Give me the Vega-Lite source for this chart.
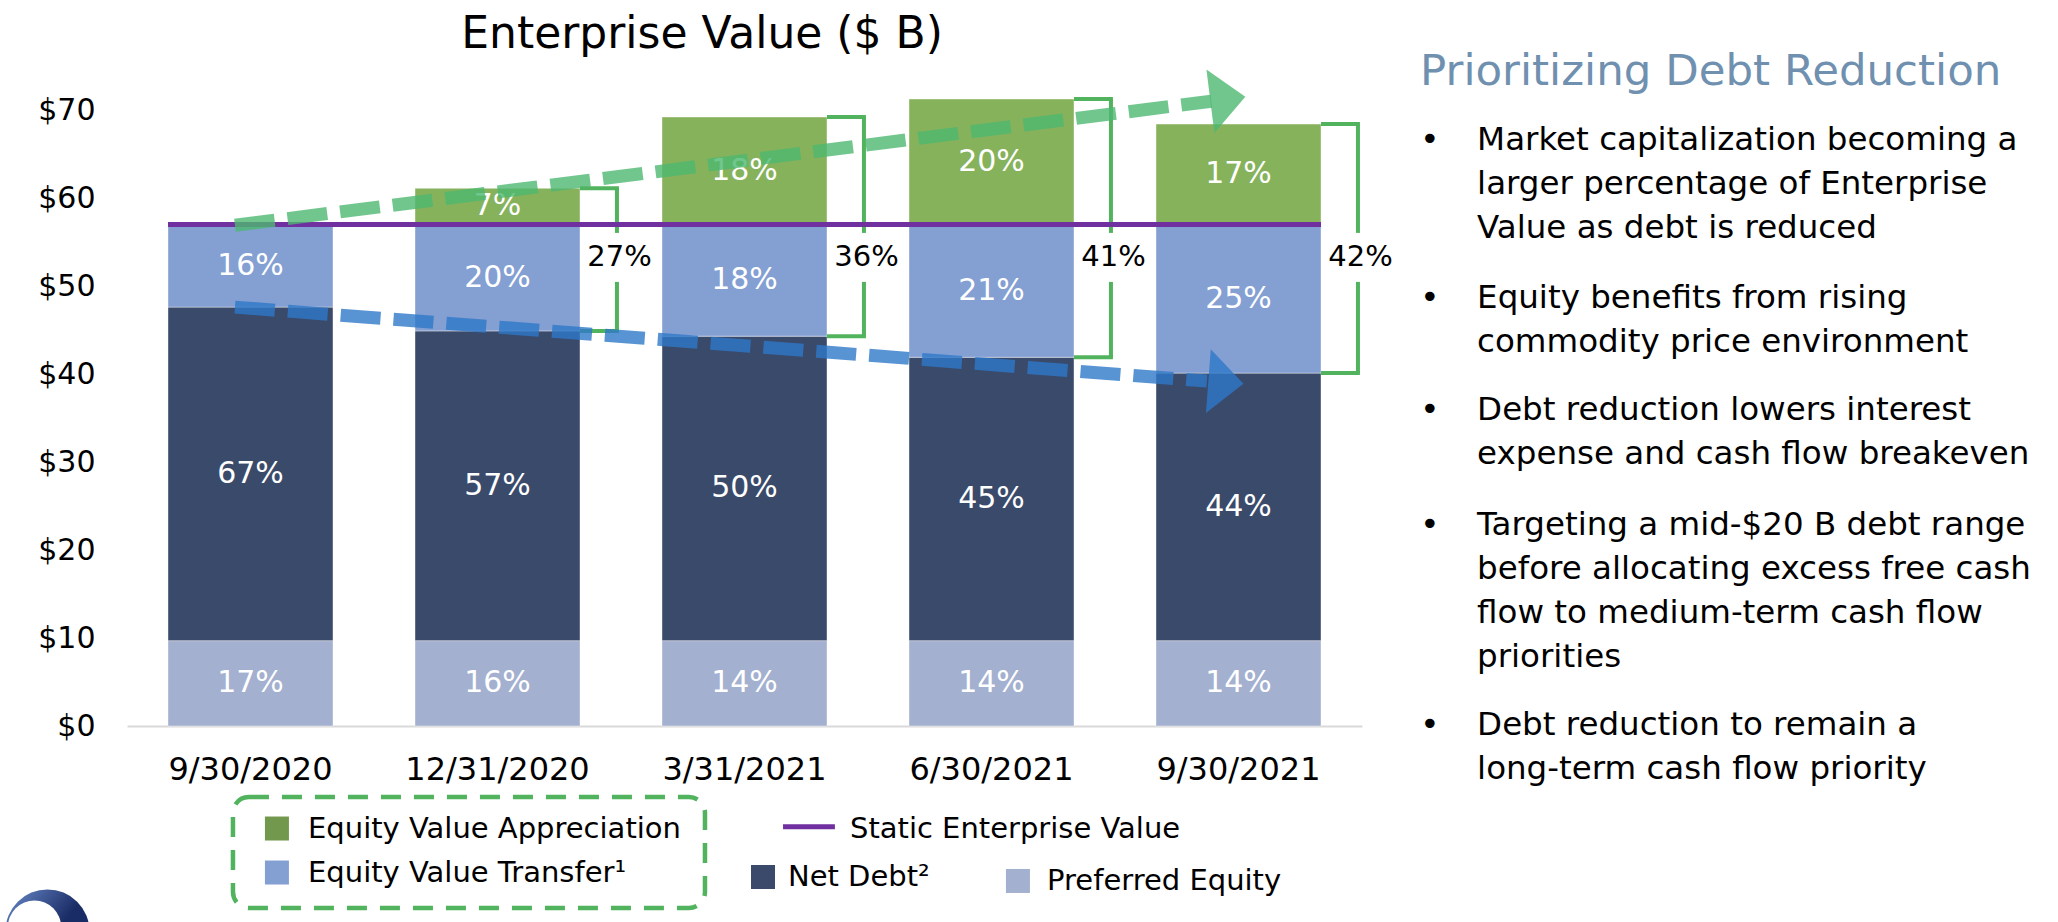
{
  "$schema": "https://vega.github.io/schema/vega-lite/v6.json",
  "width": 1235,
  "height": 660,
  "autosize": "none",
  "padding": {"left": 127, "top": 66, "right": 696, "bottom": 196},
  "background": "white",
  "datasets": {
    "bars": [
      {"date": "9/30/2020", "series": "Preferred Equity", "ord": 1, "value": 9.7, "pct": "17%"},
      {"date": "9/30/2020", "series": "Net Debt", "ord": 2, "value": 37.9, "pct": "67%"},
      {"date": "9/30/2020", "series": "Equity Value Transfer", "ord": 3, "value": 9.4, "pct": "16%"},
      {"date": "12/31/2020", "series": "Preferred Equity", "ord": 1, "value": 9.7, "pct": "16%"},
      {"date": "12/31/2020", "series": "Net Debt", "ord": 2, "value": 35.2, "pct": "57%"},
      {"date": "12/31/2020", "series": "Equity Value Transfer", "ord": 3, "value": 12.1, "pct": "20%"},
      {"date": "12/31/2020", "series": "Equity Value Appreciation", "ord": 4, "value": 4.1, "pct": "7%"},
      {"date": "3/31/2021", "series": "Preferred Equity", "ord": 1, "value": 9.7, "pct": "14%"},
      {"date": "3/31/2021", "series": "Net Debt", "ord": 2, "value": 34.6, "pct": "50%"},
      {"date": "3/31/2021", "series": "Equity Value Transfer", "ord": 3, "value": 12.7, "pct": "18%"},
      {"date": "3/31/2021", "series": "Equity Value Appreciation", "ord": 4, "value": 12.2, "pct": "18%"},
      {"date": "6/30/2021", "series": "Preferred Equity", "ord": 1, "value": 9.7, "pct": "14%"},
      {"date": "6/30/2021", "series": "Net Debt", "ord": 2, "value": 32.2, "pct": "45%"},
      {"date": "6/30/2021", "series": "Equity Value Transfer", "ord": 3, "value": 15.1, "pct": "21%"},
      {"date": "6/30/2021", "series": "Equity Value Appreciation", "ord": 4, "value": 14.25, "pct": "20%"},
      {"date": "9/30/2021", "series": "Preferred Equity", "ord": 1, "value": 9.7, "pct": "14%"},
      {"date": "9/30/2021", "series": "Net Debt", "ord": 2, "value": 30.4, "pct": "44%"},
      {"date": "9/30/2021", "series": "Equity Value Transfer", "ord": 3, "value": 16.9, "pct": "25%"},
      {"date": "9/30/2021", "series": "Equity Value Appreciation", "ord": 4, "value": 11.4, "pct": "17%"}
    ],
    "brackets": [
      {"date": "12/31/2020", "total": 61.1, "debtTop": 44.9, "share": "27%"},
      {"date": "3/31/2021", "total": 69.2, "debtTop": 44.3, "share": "36%"},
      {"date": "6/30/2021", "total": 71.25, "debtTop": 41.9, "share": "41%"},
      {"date": "9/30/2021", "total": 68.4, "debtTop": 40.1, "share": "42%"}
    ],
    "ev": [{"label": "Static Enterprise Value", "value": 57}],
    "arrows": [
      {"trend": "Equity value", "i0": -0.063, "v0": 56.9, "i1": 3.89, "v1": 71.0, "ih": 3.957, "vh": 71.25},
      {"trend": "Net debt", "i0": -0.063, "v0": 47.6, "i1": 3.872, "v1": 39.2, "ih": 3.949, "vh": 39.03}
    ],
    "notes": [
      {"ln": 0, "t": "Market capitalization becoming a", "b": true},
      {"ln": 1, "t": "larger percentage of Enterprise", "b": false},
      {"ln": 2, "t": "Value as debt is reduced", "b": false},
      {"ln": 3.59, "t": "Equity benefits from rising", "b": true},
      {"ln": 4.59, "t": "commodity price environment", "b": false},
      {"ln": 6.14, "t": "Debt reduction lowers interest", "b": true},
      {"ln": 7.14, "t": "expense and cash flow breakeven", "b": false},
      {"ln": 8.75, "t": "Targeting a mid-$20 B debt range", "b": true},
      {"ln": 9.75, "t": "before allocating excess free cash", "b": false},
      {"ln": 10.75, "t": "flow to medium-term cash flow", "b": false},
      {"ln": 11.75, "t": "priorities", "b": false},
      {"ln": 13.3, "t": "Debt reduction to remain a", "b": true},
      {"ln": 14.3, "t": "long-term cash flow priority", "b": false}
    ],
    "legend": [
      {"series": "Equity Value Appreciation", "label": "Equity Value Appreciation", "sx": 0.107, "tx": 0.233, "ln": 15.648},
      {"series": "Equity Value Transfer", "label": "Equity Value Transfer¹", "sx": 0.107, "tx": 0.233, "ln": 16.648},
      {"series": "Net Debt", "label": "Net Debt²", "sx": 2.075, "tx": 2.176, "ln": 16.75},
      {"series": "Preferred Equity", "label": "Preferred Equity", "sx": 3.107, "tx": 3.225, "ln": 16.84}
    ]
  },
  "layer": [
    {
      "layer": [
        {
          "data": {"name": "bars"},
          "mark": {"type": "bar", "stroke": "white", "strokeWidth": 0.8, "strokeOpacity": 0.5},
          "encoding": {
            "x": {"field": "date", "type": "nominal", "title": null,
              "scale": {"domain": ["9/30/2020", "12/31/2020", "3/31/2021", "6/30/2021", "9/30/2021"], "paddingInner": 0.332, "paddingOuter": 0.166},
              "axis": {"labelAngle": 0, "labelFontSize": 32, "labelFont": "DejaVu Sans", "labelColor": "black", "labelPadding": 28, "labelLimit": 400, "ticks": false, "tickSize": 0, "domainColor": "#D9D9D9", "domainWidth": 2, "title": null}},
            "y": {"aggregate": "sum", "field": "value", "type": "quantitative", "stack": "zero", "title": null,
              "scale": {"domain": [0, 75], "nice": false},
              "axis": {"values": [0, 10, 20, 30, 40, 50, 60, 70], "labelExpr": "'$' + datum.value", "domain": false, "ticks": false, "tickSize": 0, "grid": false, "labelFontSize": 30, "labelFont": "DejaVu Sans", "labelColor": "black", "labelPadding": 32, "title": null}},
            "color": {"field": "series", "type": "nominal", "legend": null,
              "scale": {"domain": ["Preferred Equity", "Net Debt", "Equity Value Transfer", "Equity Value Appreciation"], "range": ["#A3B0CF", "#3A4A6B", "#849FD2", "#86B25C"]}},
            "order": {"field": "ord", "type": "quantitative"}
          }
        },
        {
          "data": {"name": "bars"},
          "transform": [
            {"stack": "value", "groupby": ["date"], "sort": [{"field": "ord", "order": "ascending"}], "as": ["v0", "v1"]},
            {"fold": ["v0", "v1"], "as": ["edge", "pos"]}
          ],
          "mark": {"type": "text", "color": "white", "fontSize": 30, "font": "DejaVu Sans", "baseline": "middle", "align": "center"},
          "encoding": {
            "x": {"field": "date", "type": "nominal", "title": null},
            "y": {"aggregate": "mean", "field": "pos", "type": "quantitative", "title": null},
            "text": {"field": "pct"},
            "detail": {"field": "series"}
          }
        },
        {
          "data": {"name": "brackets"},
          "mark": {"type": "rule", "color": "#52B35E", "strokeWidth": 4},
          "encoding": {
            "x": {"field": "date", "type": "nominal", "bandPosition": 1.224, "title": null},
            "y": {"field": "total", "type": "quantitative", "title": null},
            "y2": {"field": "debtTop"}
          }
        },
        {
          "data": {"name": "brackets"},
          "mark": {"type": "rule", "color": "#52B35E", "strokeWidth": 4},
          "encoding": {
            "x": {"field": "date", "type": "nominal", "bandPosition": 1.0, "title": null},
            "x2": {"field": "date", "bandPosition": 1.236},
            "y": {"field": "total", "type": "quantitative", "title": null}
          }
        },
        {
          "data": {"name": "brackets"},
          "mark": {"type": "rule", "color": "#52B35E", "strokeWidth": 4},
          "encoding": {
            "x": {"field": "date", "type": "nominal", "bandPosition": 1.0, "title": null},
            "x2": {"field": "date", "bandPosition": 1.236},
            "y": {"field": "debtTop", "type": "quantitative", "title": null}
          }
        },
        {
          "data": {"name": "brackets"},
          "mark": {"type": "point", "shape": "M -0.3 -1 L 0.3 -1 L 0.3 1 L -0.3 1 Z", "size": 2401, "filled": true, "fill": "white", "opacity": 1, "strokeWidth": 0},
          "encoding": {
            "x": {"field": "date", "type": "nominal", "bandPosition": 1.224, "title": null},
            "y": {"datum": 53.25, "type": "quantitative", "title": null}
          }
        },
        {
          "data": {"name": "brackets"},
          "mark": {"type": "text", "color": "black", "fontSize": 29, "font": "DejaVu Sans", "baseline": "middle", "align": "center"},
          "encoding": {
            "x": {"field": "date", "type": "nominal", "bandPosition": 1.24, "title": null},
            "y": {"datum": 53.3, "type": "quantitative", "title": null},
            "text": {"field": "share"}
          }
        }
      ]
    },
    {
      "layer": [
        {
          "data": {"name": "ev"},
          "mark": {"type": "rule", "color": "#7030A0", "strokeWidth": 5},
          "encoding": {
            "x": {"datum": -0.334, "type": "quantitative", "scale": {"domain": [-0.5, 4.5], "nice": false, "zero": false}, "axis": null},
            "x2": {"datum": 4.334},
            "y": {"field": "value", "type": "quantitative", "scale": {"domain": [0, 75], "nice": false}, "axis": null}
          }
        },
        {
          "data": {"name": "arrows"},
          "mark": {"type": "rule", "strokeWidth": 13, "strokeDash": [40, 13], "strokeOpacity": 0.8},
          "encoding": {
            "x": {"field": "i0", "type": "quantitative", "scale": {"domain": [-0.5, 4.5], "nice": false, "zero": false}, "axis": null},
            "x2": {"field": "i1"},
            "y": {"field": "v0", "type": "quantitative", "scale": {"domain": [0, 75], "nice": false}, "axis": null},
            "y2": {"field": "v1"},
            "color": {"field": "trend", "type": "nominal", "legend": null, "scale": {"domain": ["Equity value", "Net debt"], "range": ["#4DB870", "#2E78C8"]}}
          }
        },
        {
          "data": {"name": "arrows"},
          "transform": [{"filter": "datum.trend === 'Equity value'"}],
          "mark": {"type": "point", "shape": "M -0.55 -1 L 0.55 0 L -0.55 1 Z", "size": 4096, "angle": -7.2, "filled": true, "fill": "#4DB870", "fillOpacity": 0.8, "strokeWidth": 0},
          "encoding": {
            "x": {"field": "ih", "type": "quantitative", "scale": {"domain": [-0.5, 4.5], "nice": false, "zero": false}, "axis": null},
            "y": {"field": "vh", "type": "quantitative", "scale": {"domain": [0, 75], "nice": false}, "axis": null}
          }
        },
        {
          "data": {"name": "arrows"},
          "transform": [{"filter": "datum.trend === 'Net debt'"}],
          "mark": {"type": "point", "shape": "M -0.55 -1 L 0.55 0 L -0.55 1 Z", "size": 4096, "angle": 4.35, "filled": true, "fill": "#2E78C8", "fillOpacity": 0.8, "strokeWidth": 0},
          "encoding": {
            "x": {"field": "ih", "type": "quantitative", "scale": {"domain": [-0.5, 4.5], "nice": false, "zero": false}, "axis": null},
            "y": {"field": "vh", "type": "quantitative", "scale": {"domain": [0, 75], "nice": false}, "axis": null}
          }
        }
      ]
    },
    {
      "layer": [
        {
          "data": {"values": [{"t": "Enterprise Value ($ B)", "x": 1.828, "ln": -2.091}]},
          "mark": {"type": "text", "font": "DejaVu Sans", "fontSize": 44, "color": "black", "align": "center", "baseline": "alphabetic"},
          "encoding": {
            "x": {"field": "x", "type": "quantitative", "scale": {"domain": [-0.5, 4.5], "nice": false, "zero": false}, "axis": null},
            "y": {"field": "ln", "type": "quantitative", "scale": {"domain": [-1.682, 13.318], "nice": false, "zero": false, "reverse": true}, "axis": null},
            "text": {"field": "t"}
          }
        },
        {
          "data": {"values": [{"t": "Prioritizing Debt Reduction", "ln": -1.546}]},
          "mark": {"type": "text", "font": "DejaVu Sans", "fontSize": 43.5, "color": "#7090B0", "align": "left", "baseline": "middle"},
          "encoding": {
            "x": {"datum": 4.735, "type": "quantitative", "scale": {"domain": [-0.5, 4.5], "nice": false, "zero": false}, "axis": null},
            "y": {"field": "ln", "type": "quantitative", "scale": {"domain": [-1.682, 13.318], "nice": false, "zero": false, "reverse": true}, "axis": null},
            "text": {"field": "t"}
          }
        },
        {
          "data": {"name": "notes"},
          "transform": [{"filter": "datum.b"}],
          "mark": {"type": "text", "font": "DejaVu Sans", "fontSize": 32.5, "color": "black", "align": "center", "baseline": "middle"},
          "encoding": {
            "x": {"datum": 4.775, "type": "quantitative", "scale": {"domain": [-0.5, 4.5], "nice": false, "zero": false}, "axis": null},
            "y": {"field": "ln", "type": "quantitative", "scale": {"domain": [-1.682, 13.318], "nice": false, "zero": false, "reverse": true}, "axis": null},
            "text": {"value": "•"}
          }
        },
        {
          "data": {"name": "notes"},
          "mark": {"type": "text", "font": "DejaVu Sans", "fontSize": 32.5, "color": "black", "align": "left", "baseline": "middle"},
          "encoding": {
            "x": {"datum": 4.966, "type": "quantitative", "scale": {"domain": [-0.5, 4.5], "nice": false, "zero": false}, "axis": null},
            "y": {"field": "ln", "type": "quantitative", "scale": {"domain": [-1.682, 13.318], "nice": false, "zero": false, "reverse": true}, "axis": null},
            "text": {"field": "t"}
          }
        },
        {
          "data": {"values": [{"x0": -0.071, "x1": 1.84, "y0": 14.932, "y1": 17.455}]},
          "mark": {"type": "rect", "filled": false, "stroke": "#52B35E", "strokeWidth": 4.5, "strokeDash": [20, 13], "cornerRadius": 16},
          "encoding": {
            "x": {"field": "x0", "type": "quantitative", "scale": {"domain": [-0.5, 4.5], "nice": false, "zero": false}, "axis": null},
            "x2": {"field": "x1"},
            "y": {"field": "y0", "type": "quantitative", "scale": {"domain": [-1.682, 13.318], "nice": false, "zero": false, "reverse": true}, "axis": null},
            "y2": {"field": "y1"}
          }
        },
        {
          "data": {"name": "legend"},
          "mark": {"type": "point", "shape": "square", "size": 576, "filled": true, "opacity": 1},
          "encoding": {
            "x": {"field": "sx", "type": "quantitative", "scale": {"domain": [-0.5, 4.5], "nice": false, "zero": false}, "axis": null},
            "y": {"field": "ln", "type": "quantitative", "scale": {"domain": [-1.682, 13.318], "nice": false, "zero": false, "reverse": true}, "axis": null},
            "color": {"field": "series", "type": "nominal", "legend": null,
              "scale": {"domain": ["Equity Value Appreciation", "Equity Value Transfer", "Net Debt", "Preferred Equity"], "range": ["#71984C", "#849FD2", "#3B4A6B", "#A3B0CF"]}}
          }
        },
        {
          "data": {"name": "legend"},
          "mark": {"type": "text", "font": "DejaVu Sans", "fontSize": 29, "color": "black", "align": "left", "baseline": "middle"},
          "encoding": {
            "x": {"field": "tx", "type": "quantitative", "scale": {"domain": [-0.5, 4.5], "nice": false, "zero": false}, "axis": null},
            "y": {"field": "ln", "type": "quantitative", "scale": {"domain": [-1.682, 13.318], "nice": false, "zero": false, "reverse": true}, "axis": null},
            "text": {"field": "label"}
          }
        },
        {
          "data": {"values": [{"a": 2.156, "b": 2.366, "ln": 15.61}]},
          "mark": {"type": "rule", "color": "#7030A0", "strokeWidth": 5},
          "encoding": {
            "x": {"field": "a", "type": "quantitative", "scale": {"domain": [-0.5, 4.5], "nice": false, "zero": false}, "axis": null},
            "x2": {"field": "b"},
            "y": {"field": "ln", "type": "quantitative", "scale": {"domain": [-1.682, 13.318], "nice": false, "zero": false, "reverse": true}, "axis": null}
          }
        },
        {
          "data": {"values": [{"t": "Static Enterprise Value", "x": 2.427, "ln": 15.648}]},
          "mark": {"type": "text", "font": "DejaVu Sans", "fontSize": 29, "color": "black", "align": "left", "baseline": "middle"},
          "encoding": {
            "x": {"field": "x", "type": "quantitative", "scale": {"domain": [-0.5, 4.5], "nice": false, "zero": false}, "axis": null},
            "y": {"field": "ln", "type": "quantitative", "scale": {"domain": [-1.682, 13.318], "nice": false, "zero": false, "reverse": true}, "axis": null},
            "text": {"field": "t"}
          }
        },
        {
          "data": {"values": [{"part": "logo outer", "x": -0.822, "ln": 17.986}]},
          "mark": {"type": "point", "shape": "circle", "size": 7058, "filled": true, "opacity": 1, "strokeWidth": 0,
            "fill": {"gradient": "linear", "x1": 0, "y1": 0, "x2": 0.6, "y2": 0.5, "stops": [{"offset": 0, "color": "#6A8CCB"}, {"offset": 1, "color": "#1A2C66"}]}},
          "encoding": {
            "x": {"field": "x", "type": "quantitative", "scale": {"domain": [-0.5, 4.5], "nice": false, "zero": false}, "axis": null},
            "y": {"field": "ln", "type": "quantitative", "scale": {"domain": [-1.682, 13.318], "nice": false, "zero": false, "reverse": true}, "axis": null}
          }
        },
        {
          "data": {"values": [{"part": "logo inner", "x": -0.8745, "ln": 17.886}]},
          "mark": {"type": "point", "shape": "circle", "size": 2827, "filled": true, "fill": "white", "opacity": 1, "strokeWidth": 0},
          "encoding": {
            "x": {"field": "x", "type": "quantitative", "scale": {"domain": [-0.5, 4.5], "nice": false, "zero": false}, "axis": null},
            "y": {"field": "ln", "type": "quantitative", "scale": {"domain": [-1.682, 13.318], "nice": false, "zero": false, "reverse": true}, "axis": null}
          }
        }
      ]
    }
  ],
  "resolve": {"scale": {"x": "independent", "y": "independent", "color": "independent"}},
  "config": {"view": {"stroke": null}, "font": "DejaVu Sans"}
}
